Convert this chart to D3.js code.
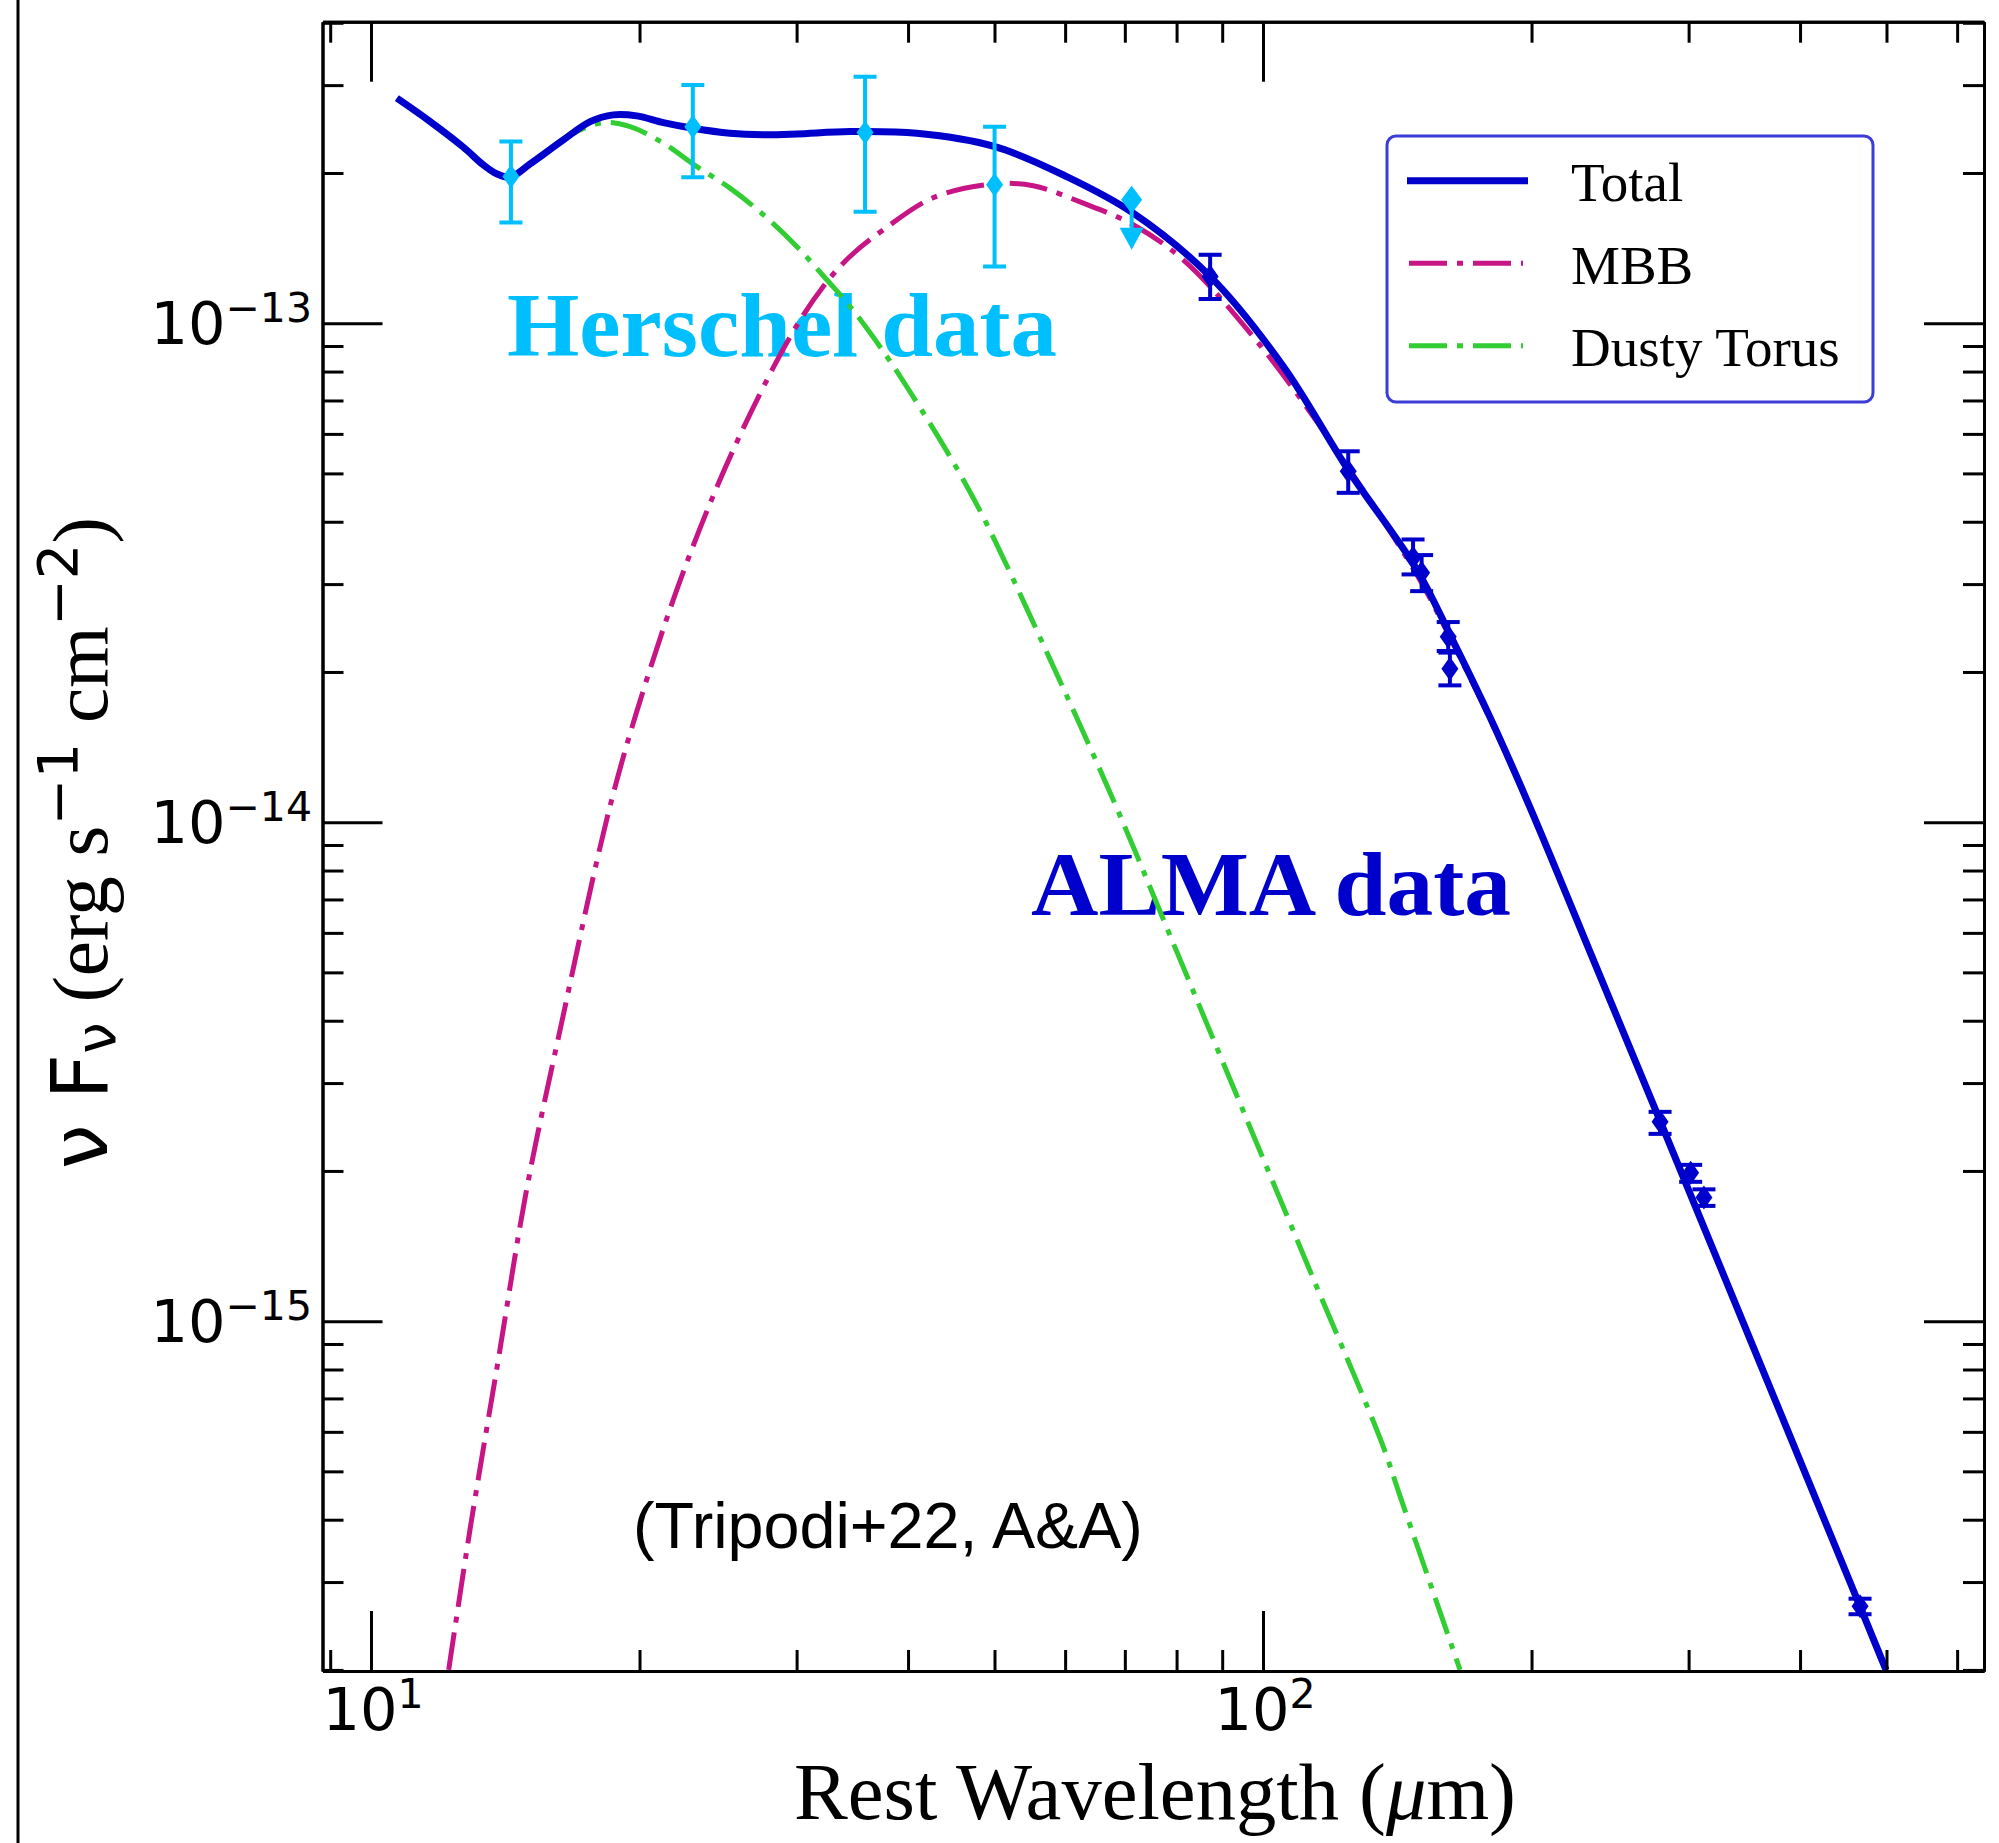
<!DOCTYPE html>
<html><head><meta charset="utf-8">
<script src="https://cdn.jsdelivr.net/npm/d3@7"></script>
<style>body{margin:0;background:#fff}</style>
</head><body>
<svg id="chart" width="1999" height="1843" xmlns="http://www.w3.org/2000/svg"></svg>
<script>
// ---------------- DATA ----------------
// Model curves: rest wavelength (micron) and nu F_nu (erg s^-1 cm^-2)
const totalWave = [10.69, 11.65, 12.69, 13.36, 13.83, 14.32, 15.08, 16.43, 17.61, 18.69, 19.86, 21.27, 22.95, 25.26, 27.54, 30.01, 34.43, 40.91, 50.06, 60.25, 71.53, 87.24, 105.4, 124.6, 148.7, 162.0, 179.7, 199.2, 235.6, 278.7, 467.0, 499.4];
const totalFlux = [2.824e-13, 2.535e-13, 2.253e-13, 2.077e-13, 1.993e-13, 1.962e-13, 2.086e-13, 2.330e-13, 2.535e-13, 2.615e-13, 2.603e-13, 2.523e-13, 2.459e-13, 2.403e-13, 2.387e-13, 2.395e-13, 2.421e-13, 2.403e-13, 2.259e-13, 1.967e-13, 1.662e-13, 1.241e-13, 8.19e-14, 5.08e-14, 3.21e-14, 2.378e-14, 1.622e-14, 1.071e-14, 5.20e-15, 2.52e-15, 2.68e-16, 2.0e-16];

const mbbWave = [12.22, 12.92, 13.89, 14.93, 16.35, 18.55, 20.38, 22.59, 25.48, 29.49, 32.14, 34.43, 37.53, 42.70, 50.06, 55.27, 62.88, 71.53, 81.38, 96.70, 114.9, 148.7, 162.0, 179.7, 199.2, 235.6, 278.7, 467.0, 498.1];
const mbbFlux = [2.0e-16, 3.85e-16, 8.37e-16, 1.82e-15, 3.95e-15, 1.083e-14, 1.933e-14, 3.31e-14, 5.58e-14, 9.38e-14, 1.185e-13, 1.36e-13, 1.539e-13, 1.785e-13, 1.902e-13, 1.885e-13, 1.740e-13, 1.575e-13, 1.340e-13, 9.56e-14, 6.35e-14, 3.137e-14, 2.345e-14, 1.607e-14, 1.066e-14, 5.17e-15, 2.51e-15, 2.67e-16, 2.0e-16];

const torusWave = [10.69, 11.65, 12.69, 13.36, 13.83, 14.32, 15.08, 15.60, 16.72, 18.22, 19.52, 21.27, 23.19, 25.26, 27.54, 30.01, 32.43, 34.43, 37.86, 41.05, 44.77, 48.60, 57.71, 68.32, 79.0, 94.67, 113.5, 136.0, 142.5, 166.3];
const torusFlux = [2.824e-13, 2.535e-13, 2.253e-13, 2.077e-13, 1.993e-13, 1.962e-13, 2.086e-13, 2.184e-13, 2.384e-13, 2.523e-13, 2.477e-13, 2.295e-13, 2.060e-13, 1.865e-13, 1.649e-13, 1.425e-13, 1.222e-13, 1.081e-13, 8.58e-14, 6.87e-14, 5.33e-14, 4.08e-14, 2.12e-14, 1.083e-14, 5.82e-15, 2.68e-15, 1.233e-15, 5.68e-16, 4.45e-16, 2.0e-16];

// Herschel photometry
const herschelWave = [14.35, 22.95, 35.80, 50.01];
const herschelFlux = [1.967e-13, 2.477e-13, 2.412e-13, 1.894e-13];
const herschelLow  = [1.591e-13, 1.962e-13, 1.672e-13, 1.299e-13];
const herschelHigh = [2.312e-13, 3.002e-13, 3.119e-13, 2.477e-13];
// Herschel upper limit
const limitWave = [71.24];
const limitFlux = [1.767e-13];
const limitArrowTip = [1.403e-13];

// ALMA photometry
const almaWave = [87.24, 124.6, 147.3, 150.6, 161.3, 162.0, 278.7, 301.6, 312.1, 467.0];
const almaFlux = [1.241e-13, 5.050e-14, 3.389e-14, 3.162e-14, 2.353e-14, 2.031e-14, 2.510e-15, 1.983e-15, 1.770e-15, 2.683e-16];
const almaHigh = [1.371e-13, 5.537e-14, 3.686e-14, 3.430e-14, 2.518e-14, 2.187e-14, 2.627e-15, 2.057e-15, 1.837e-15, 2.778e-16];
const almaLow  = [1.118e-13, 4.571e-14, 3.137e-14, 2.904e-14, 2.203e-14, 1.880e-14, 2.373e-15, 1.902e-15, 1.702e-15, 2.586e-16];

// Axes ticks
const xMajor = [10, 100];
const xMajorExp = ["1", "2"];
const xMinor = [9, 20, 30, 40, 50, 60, 70, 80, 90, 200, 300, 400, 500, 600];
const yMajor = [1e-13, 1e-14, 1e-15];
const yMajorExp = ["\u221213", "\u221214", "\u221215"];
const yMinor = [4e-13, 3e-13, 2e-13,
  9e-14, 8e-14, 7e-14, 6e-14, 5e-14, 4e-14, 3e-14, 2e-14,
  9e-15, 8e-15, 7e-15, 6e-15, 5e-15, 4e-15, 3e-15, 2e-15,
  9e-16, 8e-16, 7e-16, 6e-16, 5e-16, 4e-16, 3e-16, 2e-16];

const legendLabels = ["Total", "MBB", "Dusty Torus"];

// ---------------- STYLE ----------------
const C_TOTAL = "#0000cd", C_MBB = "#c71585", C_TORUS = "#32cd32";
const C_HER = "#00bfff", C_ALMA = "#0000cd";
const SERIF = "'Liberation Serif','Times New Roman',serif";
const SANS = "'DejaVu Sans',sans-serif";
const DASH = "38,10,6,10";

const M = {left: 322.5, top: 21.7, right: 1984, bottom: 1671};
const svg = d3.select("#chart");
svg.append("rect").attr("width", 1999).attr("height", 1843).attr("fill", "#fff");
// outer border line on the left of the screenshot
svg.append("line").attr("x1", 18).attr("x2", 18).attr("y1", 0).attr("y2", 1843)
  .attr("stroke", "#000").attr("stroke-width", 3);

const x = d3.scaleLog().domain([8.823, 643.1]).range([M.left, M.right]);
const y = d3.scaleLog().domain([1.99e-16, 4.02e-13]).range([M.bottom, M.top]);

svg.append("clipPath").attr("id", "clip").append("rect")
  .attr("x", M.left).attr("y", M.top).attr("width", M.right - M.left).attr("height", M.bottom - M.top);

function fitWidth(sel, target) {
  const w = sel.node().getBBox().width;
  return target / w;
}

// annotations (under curves)
const her = svg.append("text").attr("font-family", SERIF).attr("font-weight", "bold")
  .attr("font-size", 92).attr("fill", C_HER).text("Herschel data");
her.attr("transform", `translate(507,356) scale(${fitWidth(her, 550)},1)`);
const alma = svg.append("text").attr("font-family", SERIF).attr("font-weight", "bold")
  .attr("font-size", 92).attr("fill", C_ALMA).text("ALMA data");
alma.attr("transform", `translate(1031,915) scale(${fitWidth(alma, 480)},1)`);
const trip = svg.append("text").attr("font-family", "'Liberation Sans',Arial,sans-serif")
  .attr("font-size", 64).attr("fill", "#000").text("(Tripodi+22, A&A)");
trip.attr("transform", `translate(633,1548) scale(${fitWidth(trip, 510)},1)`);

// curves
const plot = svg.append("g").attr("clip-path", "url(#clip)");
const line = d3.line().x(d => x(d[0])).y(d => y(d[1])).curve(d3.curveCatmullRom.alpha(0.5));
const zip = (a, b) => a.map((v, i) => [v, b[i]]);

plot.append("path").datum(zip(mbbWave, mbbFlux)).attr("d", line)
  .attr("fill", "none").attr("stroke", C_MBB).attr("stroke-width", 5).attr("stroke-dasharray", DASH);
plot.append("path").datum(zip(torusWave, torusFlux)).attr("d", line)
  .attr("fill", "none").attr("stroke", C_TORUS).attr("stroke-width", 5).attr("stroke-dasharray", DASH);
plot.append("path").datum(zip(totalWave, totalFlux)).attr("d", line)
  .attr("fill", "none").attr("stroke", C_TOTAL).attr("stroke-width", 7).attr("stroke-linejoin", "round");

// error bars + markers
function diamond(w, h) { return `M0,${-h/2}L${w/2},0L0,${h/2}L${-w/2},0Z`; }
function drawPoints(wave, flux, low, high, color) {
  const g = plot.append("g");
  wave.forEach((wv, i) => {
    const cx = x(wv);
    g.append("line").attr("x1", cx).attr("x2", cx).attr("y1", y(low[i])).attr("y2", y(high[i]))
      .attr("stroke", color).attr("stroke-width", 4);
    [low[i], high[i]].forEach(v => g.append("line").attr("x1", cx - 11.5).attr("x2", cx + 11.5)
      .attr("y1", y(v)).attr("y2", y(v)).attr("stroke", color).attr("stroke-width", 4));
    g.append("path").attr("d", diamond(17, 24)).attr("transform", `translate(${cx},${y(flux[i])})`)
      .attr("fill", color);
  });
}
drawPoints(herschelWave, herschelFlux, herschelLow, herschelHigh, C_HER);
drawPoints(almaWave, almaFlux, almaLow, almaHigh, C_ALMA);

// upper limit
limitWave.forEach((wv, i) => {
  const cx = x(wv), cy = y(limitFlux[i]), ty = y(limitArrowTip[i]);
  plot.append("line").attr("x1", cx).attr("x2", cx).attr("y1", cy).attr("y2", ty - 12)
    .attr("stroke", C_HER).attr("stroke-width", 4);
  plot.append("path").attr("d", diamond(21, 28)).attr("transform", `translate(${cx},${cy})`).attr("fill", C_HER);
  plot.append("path").attr("d", `M${cx - 12},${ty - 22}L${cx + 12},${ty - 22}L${cx},${ty}Z`).attr("fill", C_HER);
});

// axes (ticks pointing inward on all four sides)
function styleAxis(g) {
  g.selectAll("path.domain").attr("stroke", "#000").attr("stroke-width", 3);
  g.selectAll(".tick line").attr("stroke", "#000").attr("stroke-width", 3);
  g.selectAll("text").remove();
}
const axes = svg.append("g");
const MAJ = 60, MIN = 21;
[[d3.axisBottom, `translate(0,${M.bottom})`, x, xMajor, xMinor],
 [d3.axisTop, `translate(0,${M.top})`, x, xMajor, xMinor],
 [d3.axisLeft, `translate(${M.left},0)`, y, yMajor, yMinor],
 [d3.axisRight, `translate(${M.right},0)`, y, yMajor, yMinor]].forEach(([ax, tr, sc, maj, mn]) => {
  axes.append("g").attr("transform", tr)
    .call(ax(sc).tickValues(maj).tickSize(-MAJ).tickSizeOuter(0).tickFormat(""))
    .call(styleAxis);
  axes.append("g").attr("transform", tr)
    .call(ax(sc).tickValues(mn).tickSize(-MIN).tickSizeOuter(0).tickFormat(""))
    .call(styleAxis);
});

// tick labels
yMajor.forEach((v, i) => {
  const t = svg.append("text").attr("x", 312).attr("y", y(v) + 21).attr("text-anchor", "end")
    .attr("font-family", SANS).attr("font-size", 59).attr("fill", "#000");
  t.append("tspan").text("10");
  t.append("tspan").attr("font-size", 41).attr("dy", -22).text(yMajorExp[i]);
});
xMajor.forEach((v, i) => {
  const t = svg.append("text").attr("x", x(v) + 2).attr("y", 1730).attr("text-anchor", "middle")
    .attr("font-family", SANS).attr("font-size", 59).attr("fill", "#000");
  t.append("tspan").text("10");
  t.append("tspan").attr("font-size", 41).attr("dy", -22).text(xMajorExp[i]);
});

// axis titles
const xl = svg.append("text").attr("font-family", SERIF).attr("font-size", 80).attr("fill", "#000");
xl.append("tspan").text("Rest Wavelength (");
xl.append("tspan").attr("font-style", "italic").text("\u03bc");
xl.append("tspan").text("m)");
xl.attr("transform", `translate(794,1819) scale(${fitWidth(xl, 722)},1)`);

const yl = svg.append("text").attr("font-family", SERIF).attr("font-size", 78).attr("fill", "#000");
yl.append("tspan").attr("font-family", SANS).text("\u03bd F");
yl.append("tspan").attr("font-family", SANS).attr("font-size", 55).attr("dy", 8).text("\u03bd");
yl.append("tspan").attr("dy", -8).text(" (erg s");
yl.append("tspan").attr("font-family", SANS).attr("font-size", 55).attr("dy", -30).text("\u22121");
yl.append("tspan").attr("dy", 30).text(" cm");
yl.append("tspan").attr("font-family", SANS).attr("font-size", 55).attr("dy", -30).text("\u22122");
yl.append("tspan").attr("dy", 30).text(")");
yl.attr("transform", `translate(107,1169) rotate(-90) scale(${fitWidth(yl, 652)},1)`);

// legend
const lg = svg.append("g");
lg.append("rect").attr("x", 1387).attr("y", 136).attr("width", 486).attr("height", 266).attr("rx", 9)
  .attr("fill", "#fff").attr("stroke", "#3c3cd6").attr("stroke-width", 3);
const legendStyles = [
  {color: C_TOTAL, w: 7, dash: null, x1: 1407, x2: 1528},
  {color: C_MBB, w: 5, dash: DASH, x1: 1409, x2: 1523},
  {color: C_TORUS, w: 5, dash: DASH, x1: 1409, x2: 1523}];
const legendY = [180.7, 263.3, 345.7];
legendLabels.forEach((lab, i) => {
  const s = legendStyles[i];
  const l = lg.append("line").attr("x1", s.x1).attr("x2", s.x2).attr("y1", legendY[i]).attr("y2", legendY[i])
    .attr("stroke", s.color).attr("stroke-width", s.w);
  if (s.dash) l.attr("stroke-dasharray", s.dash);
  lg.append("text").attr("x", 1571).attr("y", legendY[i] + 20.5).attr("font-family", SERIF)
    .attr("font-size", 55).attr("fill", "#000").text(lab);
});
</script>
</body></html>
